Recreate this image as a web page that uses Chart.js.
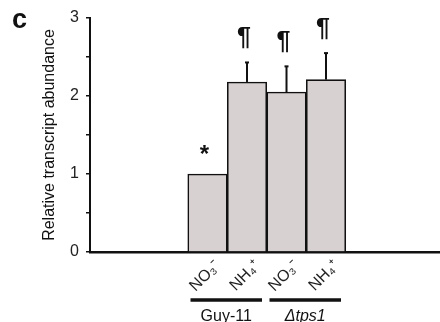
<!DOCTYPE html>
<html>
<head>
<meta charset="utf-8">
<script src="https://cdn.jsdelivr.net/npm/chart.js@4/dist/chart.umd.min.js"></script>
<style>
	html, body { margin: 0; padding: 0; background: #fff; }
	#wrap { width: 440px; height: 322px; }
</style>
</head>
<body>
<div id="wrap"><canvas id="barChart"></canvas></div>
<script>
// 数据
var categories = ['NO\u2083\u207B', 'NH\u2084\u207A', 'NO\u2083\u207B', 'NH\u2084\u207A'];
var values = [1.0, 2.18, 2.05, 2.21];
var errorUpper = [0, 0.25, 0.33, 0.34];
var marks = ['*', '\u00B6', '\u00B6', '\u00B6'];
var groups = [
	{ label: 'Guy-11', from: 0, to: 1 },
	{ label: 'tps1', delta: true, from: 2, to: 3 }
];
var yTicks = [0, 1, 2, 3];

var FONT = '"Liberation Sans", Arial, sans-serif';

// 误差线 + 标注
var extrasPlugin = {
	id: 'extras',
	afterDatasetsDraw: function(chart) {
		var ctx = chart.ctx;
		var xs = chart.scales.x, ys = chart.scales.y;
		ctx.save();
		ctx.strokeStyle = '#111';
		values.forEach(function(v, i) {
			var x = xs.getPixelForValue(i);
			var top = v + errorUpper[i];
			if (errorUpper[i] > 0) {
				ctx.lineWidth = 2;
				ctx.beginPath();
				ctx.moveTo(x, ys.getPixelForValue(v));
				ctx.lineTo(x, ys.getPixelForValue(top));
				ctx.stroke();
				ctx.beginPath();
				ctx.moveTo(x - 2, ys.getPixelForValue(top));
				ctx.lineTo(x + 2, ys.getPixelForValue(top));
				ctx.stroke();
			}
			ctx.fillStyle = '#111';
			ctx.textAlign = 'center';
			ctx.textBaseline = 'middle';
			if (marks[i] === '*') {
				ctx.font = 'bold 24px ' + FONT;
				ctx.fillText(marks[i], x - 3, ys.getPixelForValue(top) - 19);
			} else {
				ctx.font = 'bold 25px ' + FONT;
				ctx.fillText(marks[i], x - 3, ys.getPixelForValue(top) - 24);
			}
		});
		ctx.restore();
	},
	afterDraw: function(chart) {
		var ctx = chart.ctx;
		var xs = chart.scales.x;
		ctx.save();
		ctx.fillStyle = '#111';
		ctx.strokeStyle = '#111';
		groups.forEach(function(g) {
			var x1 = xs.getPixelForValue(g.from) - 17;
			var x2 = xs.getPixelForValue(g.to) + 15;
			ctx.lineWidth = 3.5;
			ctx.beginPath();
			ctx.moveTo(x1, 300);
			ctx.lineTo(x2, 300);
			ctx.stroke();
			var cx = (x1 + x2) / 2;
			ctx.textBaseline = 'middle';
			if (g.delta) {
				ctx.font = 'italic 16px ' + FONT;
				var w1 = ctx.measureText('\u0394').width;
				var w2 = ctx.measureText(g.label).width;
				var sx = cx - (w1 + w2) / 2;
				ctx.textAlign = 'left';
				ctx.fillText('\u0394', sx, 317);
				ctx.fillText(g.label, sx + w1, 317);
			} else {
				ctx.font = '16px ' + FONT;
				ctx.textAlign = 'center';
				ctx.fillText(g.label, cx, 317);
			}
		});
		// 面板字母
		ctx.font = 'bold 27px ' + FONT;
		ctx.textAlign = 'left';
		ctx.textBaseline = 'alphabetic';
		ctx.fillText('c', 12, 28);
		ctx.restore();
	}
};

var barChartCanvas = document.getElementById('barChart').getContext('2d');
var barChart = new Chart(barChartCanvas, {
	type: 'bar',
	data: {
		datasets: [{
			data: values.map(function(v, i) { return { x: i, y: v }; }),
			backgroundColor: '#d7d1d1',
			borderColor: '#111',
			borderWidth: 1.6,
			borderSkipped: 'start',
			barPercentage: 1,
			categoryPercentage: 1
		}]
	},
	options: {
		responsive: true,
		maintainAspectRatio: false,
		animation: false,
		layout: { padding: { top: 18, right: 0, left: 40, bottom: 0 } },
		plugins: { legend: { display: false }, tooltip: { enabled: false } },
		scales: {
			x: {
				type: 'linear',
				offset: false,
				min: -2.975,
				max: 5.886,
				afterBuildTicks: function(scale) {
					scale.ticks = categories.map(function(c, i) { return { value: i }; });
				},
				afterFit: function(scale) { scale.height = 70; },
				grid: { display: false, drawTicks: false },
				border: { display: true, color: '#111', width: 2.5 },
				ticks: {
					autoSkip: false,
					minRotation: 45,
					maxRotation: 45,
					padding: 5,
					labelOffset: 10,
					color: '#222',
					font: { family: FONT, size: 16 },
					callback: function(v) { return categories[v] || ''; }
				}
			},
			y: {
				min: 0,
				max: 3,
				afterBuildTicks: function(scale) {
					var t = [];
					for (var v = 0; v <= 3; v += 0.5) t.push({ value: v });
					scale.ticks = t;
				},
				afterFit: function(scale) { scale.width = 50; },
				grid: { display: true, drawOnChartArea: false, drawTicks: true, tickLength: 4, color: '#111', lineWidth: 1.5 },
				border: { display: true, color: '#111', width: 2 },
				title: {
					display: true,
					text: 'Relative transcript abundance',
					color: '#111',
					font: { family: FONT, size: 16 },
					padding: { top: 0, bottom: 6 }
				},
				ticks: {
					padding: 7,
					color: '#222',
					font: { family: FONT, size: 16 },
					callback: function(v) { return yTicks.indexOf(v) >= 0 ? String(v) : ''; }
				}
			}
		}
	},
	plugins: [extrasPlugin]
});
</script>
</body>
</html>
